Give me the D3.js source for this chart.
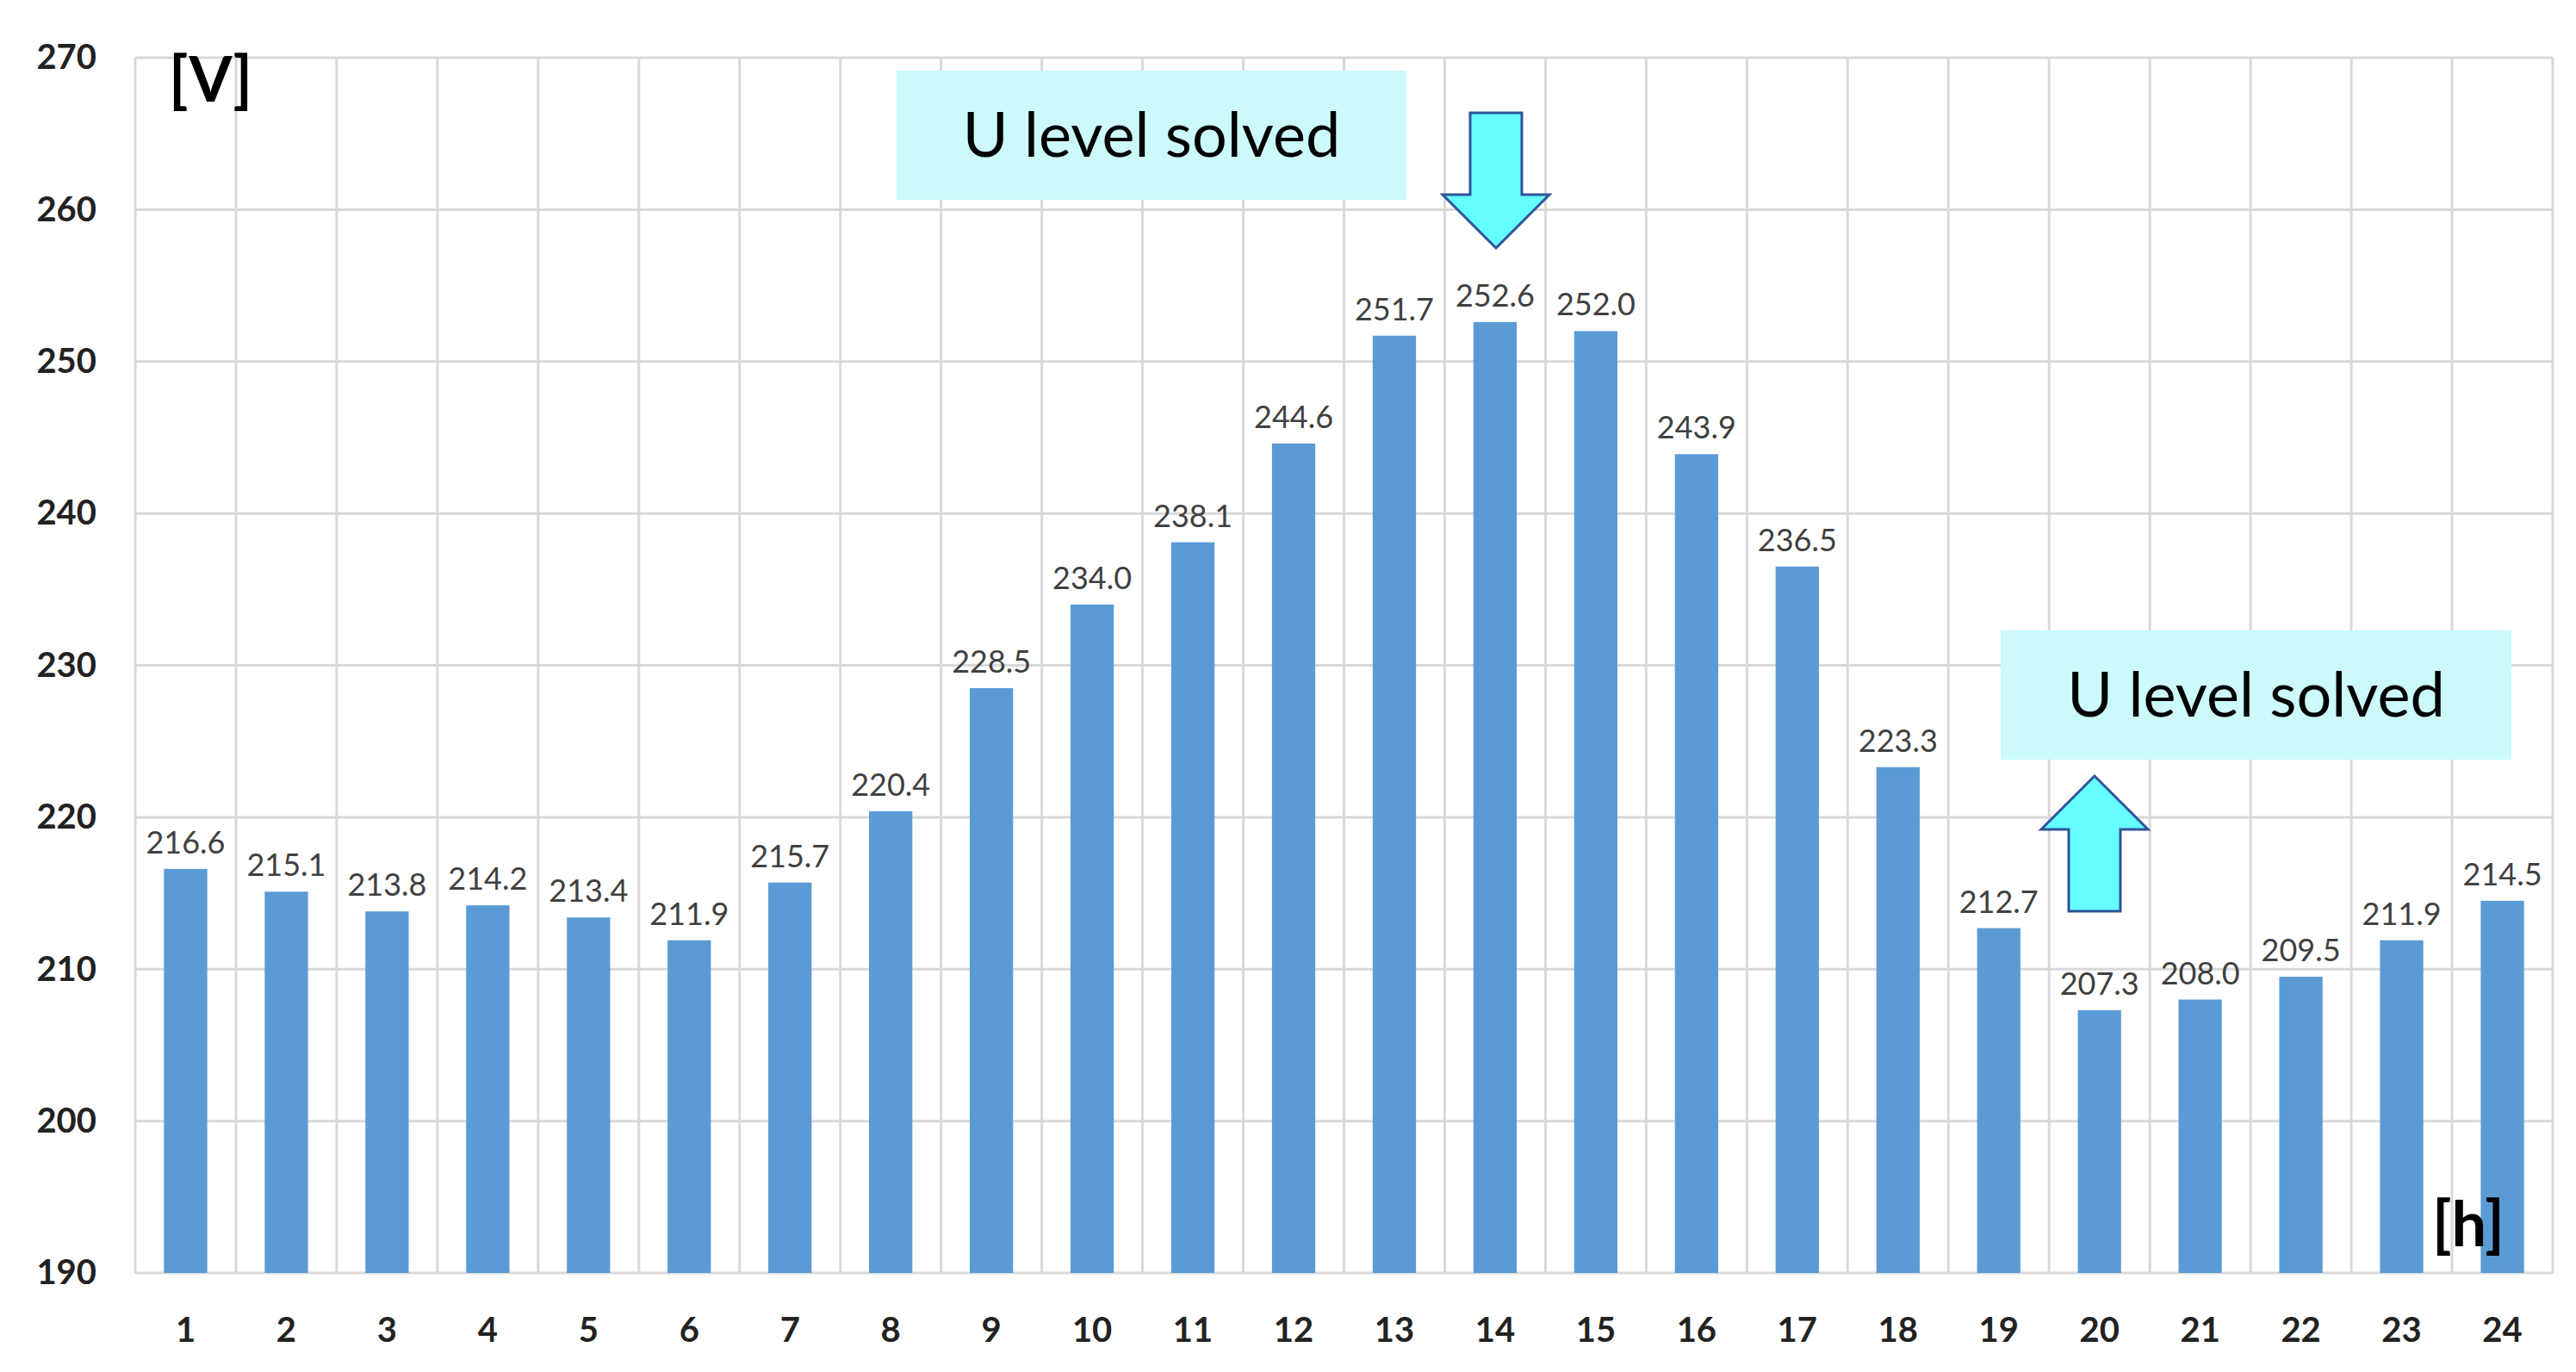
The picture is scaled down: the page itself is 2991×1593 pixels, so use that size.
<!DOCTYPE html>
<html><head><meta charset="utf-8">
<script src="https://cdn.jsdelivr.net/npm/d3@7"></script>
<style>body{margin:0;background:#fff}svg{display:block;font-family:Lato,"Open Sans",sans-serif}</style>
</head><body>
<svg width="2991" height="1593"></svg>
<script>
const hours = d3.range(1, 25).map(String);
const voltage = [216.6,215.1,213.8,214.2,213.4,211.9,215.7,220.4,228.5,234.0,238.1,244.6,
                 251.7,252.6,252.0,243.9,236.5,223.3,212.7,207.3,208.0,209.5,211.9,214.5];
const yTicks = [190,200,210,220,230,240,250,260,270];

const svg = d3.select("svg");
const m = {left: 157, right: 2964, top: 67, bottom: 1478};

const x = d3.scaleBand().domain(hours).range([m.left, m.right]).paddingInner(0.57).paddingOuter(0.285);
const xg = d3.scaleBand().domain(hours).range([m.left, m.right]);
const y = d3.scaleLinear().domain([190, 270]).range([m.bottom, m.top]);

// grid
svg.append("g").selectAll("line").data(yTicks).join("line")
  .attr("x1", m.left).attr("x2", m.right).attr("y1", d => y(d)).attr("y2", d => y(d))
  .attr("stroke", "#d9d9d9").attr("stroke-width", 3);
svg.append("g").selectAll("line").data(hours.concat(["end"])).join("line")
  .attr("x1", d => d === "end" ? m.right : xg(d)).attr("x2", d => d === "end" ? m.right : xg(d))
  .attr("y1", m.top).attr("y2", m.bottom)
  .attr("stroke", "#d9d9d9").attr("stroke-width", 3);

// bars
svg.append("g").selectAll("rect").data(voltage).join("rect")
  .attr("x", (d, i) => x(hours[i])).attr("width", x.bandwidth())
  .attr("y", d => y(d)).attr("height", d => y(190) - y(d))
  .attr("fill", "#5b9bd5");

// value labels
svg.append("g").selectAll("text").data(voltage).join("text")
  .attr("x", (d, i) => x(hours[i]) + x.bandwidth() / 2).attr("y", d => y(d) - 18)
  .attr("text-anchor", "middle").attr("font-size", 36).attr("fill", "#404040")
  .text(d => d.toFixed(1));

// axes
const yAxis = svg.append("g").attr("transform", `translate(${m.left - 45},0)`)
  .call(d3.axisLeft(y).tickValues(yTicks).tickSize(0).tickPadding(0));
yAxis.select(".domain").remove();
yAxis.selectAll("text").attr("font-size", 40).attr("font-weight", "bold").attr("fill", "#222").attr("font-family", "Lato");

const xAxis = svg.append("g").attr("transform", `translate(0,${m.bottom + 52})`)
  .call(d3.axisBottom(x).tickSize(0).tickPadding(0));
xAxis.select(".domain").remove();
xAxis.selectAll("text").attr("font-size", 40).attr("font-weight", "bold").attr("fill", "#222").attr("font-family", "Lato");

// unit labels
svg.append("text").attr("x", 196).attr("y", 118).attr("font-size", 72).attr("font-weight", "bold").text("[V]");
svg.append("text").attr("x", 2824).attr("y", 1447).attr("font-size", 72).attr("font-weight", "bold").text("[h]");

// annotation boxes
function box(x0, y0, w, h) {
  svg.append("rect").attr("x", x0).attr("y", y0).attr("width", w).attr("height", h).attr("fill", "#ccf9f9");
  svg.append("text").attr("x", x0 + w / 2).attr("y", y0 + h / 2 + 25).attr("text-anchor", "middle")
    .attr("font-size", 72).attr("fill", "#000").text("U level solved");
}
box(1041, 82, 592, 150);
box(2323, 732, 593, 150);

// arrows
function arrow(cx, tipY, baseY) {
  const dir = Math.sign(baseY - tipY), hw = 62, sw = 30, hl = 62 * dir;
  const pts = [[cx, tipY], [cx + hw, tipY + hl], [cx + sw, tipY + hl], [cx + sw, baseY],
               [cx - sw, baseY], [cx - sw, tipY + hl], [cx - hw, tipY + hl]];
  svg.append("polygon").attr("points", pts.map(p => p.join(",")).join(" "))
    .attr("fill", "#66ffff").attr("stroke", "#2f5597").attr("stroke-width", 3);
}
arrow(1737, 288, 131);
arrow(2432, 901, 1058);
</script>
</body></html>
